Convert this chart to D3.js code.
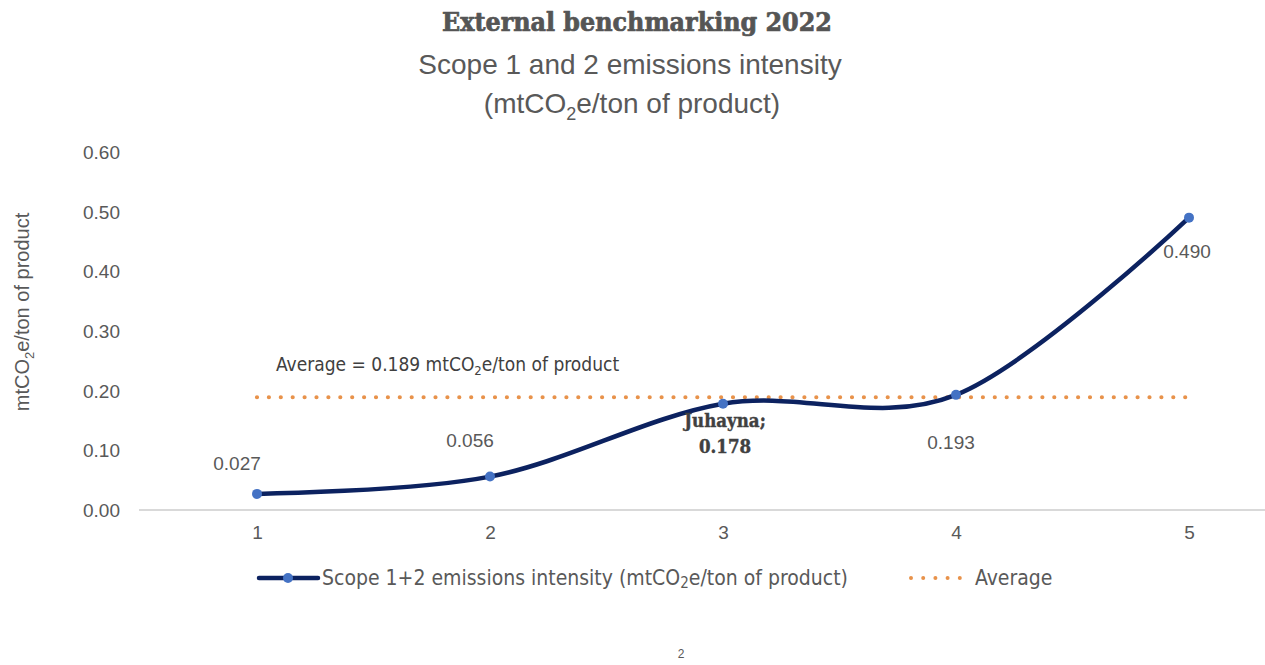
<!DOCTYPE html>
<html>
<head>
<meta charset="utf-8">
<script src="https://cdn.jsdelivr.net/npm/d3@7"></script>
<style>
  html, body { margin: 0; padding: 0; background: #ffffff; }
  svg { display: block; }
</style>
</head>
<body>
<script>
// ---------- data ----------
const categories = ["1", "2", "3", "4", "5"];
const intensity = [0.027, 0.056, 0.178, 0.193, 0.490];
const dataLabels = ["0.027", "0.056", "Juhayna;|0.178", "0.193", "0.490"];
const averageValue = 0.189;
const yTicks = [0, 0.1, 0.2, 0.3, 0.4, 0.5, 0.6];
const seriesNames = ["Scope 1+2 emissions intensity (mtCO|e/ton of product)", "Average"];

// ---------- setup ----------
const W = 1265, H = 665;
const svg = d3.select("body").append("svg").attr("width", W).attr("height", H);
const grey = "#595959";
const navy = "#0c2260";
const marker = "#4472c4";
const orange = "#e8924a";
const sans = "'Liberation Sans', Arial, sans-serif";
const slab = "'DejaVu Serif Condensed', 'DejaVu Serif', serif";
const narrow = "'Liberation Sans Narrow', 'DejaVu Sans Condensed', sans-serif";

const x = d3.scalePoint().domain(categories).range([257, 1189]);
const y = d3.scaleLinear().domain([0, 0.6]).range([510, 152]);

// ---------- titles ----------
svg.append("text").attr("x", 637).attr("y", 31).attr("text-anchor", "middle")
  .attr("font-family", slab).attr("font-weight", "bold").attr("font-size", 26.5)
  .attr("fill", "#555555").attr("stroke", "#555555").attr("stroke-width", 0.7)
  .attr("paint-order", "stroke fill").attr("stroke-linejoin", "round")
  .text("External benchmarking 2022");
svg.append("text").attr("x", 630).attr("y", 74).attr("text-anchor", "middle")
  .attr("font-family", sans).attr("font-size", 28).attr("fill", grey)
  .text("Scope 1 and 2 emissions intensity");
const t3 = svg.append("text").attr("x", 632).attr("y", 113).attr("text-anchor", "middle")
  .attr("font-family", sans).attr("font-size", 28).attr("fill", grey);
t3.append("tspan").text("(mtCO");
t3.append("tspan").attr("font-size", 18).attr("dy", 7).text("2");
t3.append("tspan").attr("dy", -7).text("e/ton of product)");

// ---------- y axis ----------
const yAxis = d3.axisLeft(y).tickValues(yTicks).tickFormat(d3.format(".2f")).tickSize(0).tickPadding(0);
const ya = svg.append("g").attr("transform", "translate(120,0)").call(yAxis);
ya.select(".domain").remove();
ya.selectAll("text").attr("font-family", sans).attr("font-size", 19).attr("fill", grey).attr("dy", "0.35em");

// y axis title
const yt = svg.append("text").attr("transform", "translate(29,312) rotate(-90)")
  .attr("text-anchor", "middle").attr("font-family", sans).attr("font-size", 20).attr("fill", grey);
yt.append("tspan").text("mtCO");
yt.append("tspan").attr("font-size", 13).attr("dy", 5).text("2");
yt.append("tspan").attr("dy", -5).text("e/ton of product");

// ---------- x axis ----------
svg.append("line").attr("x1", 139).attr("x2", W).attr("y1", y(0)).attr("y2", y(0))
  .attr("stroke", "#d9d9d9").attr("stroke-width", 2);
const xAxis = d3.axisBottom(x).tickSize(0).tickPadding(0);
const xa = svg.append("g").attr("transform", `translate(0,${y(0)})`).call(xAxis);
xa.select(".domain").remove();
xa.selectAll("text").attr("font-family", sans).attr("font-size", 19).attr("fill", grey).attr("dy", "1.55em");

// ---------- average line ----------
const avgData = categories.map(c => ({ c, v: averageValue }));
svg.append("path").datum(avgData)
  .attr("d", d3.line().x(d => x(d.c)).y(d => y(d.v)))
  .attr("fill", "none").attr("stroke", orange).attr("stroke-width", 4.2)
  .attr("stroke-linecap", "round").attr("stroke-dasharray", "0,11.9");

// average annotation
const at = svg.append("text").attr("x", 276).attr("y", 371)
  .attr("font-family", narrow).attr("font-size", 19).attr("fill", "#404040");
at.append("tspan").text("Average = " + d3.format(".3f")(averageValue) + " mtCO");
at.append("tspan").attr("font-size", 13).attr("dy", 4).text("2");
at.append("tspan").attr("dy", -4).text("e/ton of product");

// ---------- main series ----------
const series = categories.map((c, i) => ({ c, v: intensity[i], label: dataLabels[i] }));
svg.append("path").datum(series)
  .attr("d", d3.line().x(d => x(d.c)).y(d => y(d.v)).curve(d3.curveCardinal.tension(0)))
  .attr("fill", "none").attr("stroke", navy).attr("stroke-width", 4.5).attr("stroke-linecap", "round");
svg.selectAll("circle.pt").data(series).enter().append("circle")
  .attr("cx", d => x(d.c)).attr("cy", d => y(d.v)).attr("r", 5).attr("fill", marker);

// data labels (offsets relative to points)
const labelOffsets = [[-20, -24], [-20, -30], [0, 0], [-5, 54], [-2, 40]];
series.forEach((d, i) => {
  const [dx, dy] = labelOffsets[i];
  if (d.label.includes("|")) {
    const parts = d.label.split("|");
    const g = svg.append("text").attr("text-anchor", "middle")
      .attr("font-family", slab).attr("font-weight", "bold").attr("font-size", 18.5)
      .attr("fill", "#404040").attr("stroke", "#404040").attr("stroke-width", 0.4)
      .attr("paint-order", "stroke fill");
    g.append("tspan").attr("x", x(d.c) + 2).attr("y", y(d.v) + 23).text(parts[0]);
    g.append("tspan").attr("x", x(d.c) + 2).attr("y", y(d.v) + 49).text(parts[1]);
  } else {
    svg.append("text").attr("x", x(d.c) + dx).attr("y", y(d.v) + dy)
      .attr("text-anchor", "middle").attr("font-family", sans).attr("font-size", 19)
      .attr("fill", grey).text(d.label);
  }
});

// ---------- legend ----------
const ly = 578;
svg.append("line").attr("x1", 259).attr("x2", 318).attr("y1", ly).attr("y2", ly)
  .attr("stroke", navy).attr("stroke-width", 4.5).attr("stroke-linecap", "round");
svg.append("circle").attr("cx", 288).attr("cy", ly).attr("r", 5).attr("fill", marker);
const lt = svg.append("text").attr("x", 322).attr("y", ly + 7)
  .attr("font-family", narrow).attr("font-size", 21).attr("fill", grey);
const sp = seriesNames[0].split("|");
lt.append("tspan").text(sp[0]);
lt.append("tspan").attr("font-size", 15).attr("dy", 3).text("2");
lt.append("tspan").attr("dy", -3).text(sp[1]);

svg.append("line").attr("x1", 911).attr("x2", 960).attr("y1", ly).attr("y2", ly)
  .attr("stroke", orange).attr("stroke-width", 4).attr("stroke-linecap", "round")
  .attr("stroke-dasharray", "0,12.2");
svg.append("text").attr("x", 975).attr("y", ly + 7)
  .attr("font-family", narrow).attr("font-size", 21).attr("fill", grey).text(seriesNames[1]);

// page number
svg.append("text").attr("x", 681).attr("y", 658).attr("text-anchor", "middle")
  .attr("font-family", sans).attr("font-size", 12).attr("fill", grey).text("2");
</script>
</body>
</html>
